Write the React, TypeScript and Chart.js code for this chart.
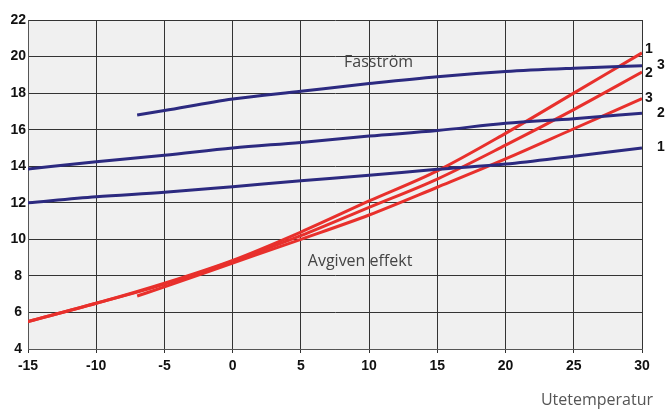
import React, { useEffect, useRef } from "react";
import { Chart, registerables } from "chart.js";

Chart.register(...registerables);

const xTicks = [-15, -10, -5, 0, 5, 10, 15, 20, 25, 30];
const xsFull = [-15, -10, -5, 0, 5, 10, 15, 20, 25, 30];
const xsShort = [-7, -5, 0, 5, 10, 15, 20, 25, 30];

const fass1 = [12.0, 12.33, 12.57, 12.88, 13.2, 13.5, 13.83, 14.12, 14.55, 15.0];
const fass2 = [13.85, 14.25, 14.6, 15.0, 15.3, 15.65, 15.95, 16.35, 16.6, 16.9];
const fass3 = [16.8, 17.05, 17.68, 18.1, 18.52, 18.9, 19.18, 19.36, 19.5];

const eff1 = [5.5, 6.5, 7.6, 8.85, 10.4, 12.1, 13.75, 15.8, 18.0, 20.2];
const eff2 = [5.5, 6.5, 7.55, 8.8, 10.2, 11.75, 13.3, 15.15, 17.1, 19.15];
const eff3 = [6.9, 7.4, 8.7, 10.0, 11.33, 12.85, 14.4, 16.05, 17.7];

const redLabels = [
  { text: "1", y: 20.41 },
  { text: "2", y: 19.1 },
  { text: "3", y: 17.73 },
];
const blueLabels = [
  { text: "3", y: 19.54 },
  { text: "2", y: 16.9 },
  { text: "1", y: 15.05 },
];

const BLUE = "#2c2a80";
const RED = "#e8302c";

function pts(xs: number[], ys: number[]) {
  return xs.map((x, i) => ({ x, y: ys[i] }));
}

export default function App() {
  const ref = useRef<HTMLCanvasElement | null>(null);

  useEffect(() => {
    document.body.style.margin = "0";
    const canvas = ref.current;
    if (!canvas) return;

    const bgPlugin = {
      id: "bgArea",
      beforeDraw(chart: any) {
        const { ctx, chartArea } = chart;
        ctx.save();
        ctx.fillStyle = "#f0f0f0";
        ctx.fillRect(chartArea.left, chartArea.top, chartArea.right - chartArea.left, chartArea.bottom - chartArea.top);
        ctx.restore();
      },
    };

    const textPlugin = {
      id: "texts",
      afterDraw(chart: any) {
        const { ctx, chartArea, scales } = chart;
        const xs = scales.x;
        const ys = scales.y;
        ctx.save();
        ctx.textBaseline = "middle";
        ctx.textAlign = "center";
        ctx.fillStyle = "#444";
        ctx.font = "16px 'Open Sans'";
        ctx.fillText("Fasström", xs.getPixelForValue(10.69), ys.getPixelForValue(19.68));
        ctx.fillText("Avgiven effekt", xs.getPixelForValue(9.34), ys.getPixelForValue(8.8));
        ctx.fillStyle = "#111";
        ctx.font = "bold 14px 'Liberation Sans'";
        redLabels.forEach((l) => ctx.fillText(l.text, chartArea.right + 7, ys.getPixelForValue(l.y)));
        blueLabels.forEach((l) => ctx.fillText(l.text, chartArea.right + 19, ys.getPixelForValue(l.y)));
        ctx.textAlign = "right";
        ctx.fillStyle = "#555";
        ctx.font = "16px 'Open Sans'";
        ctx.fillText("Utetemperatur", chartArea.right + 11, chartArea.bottom + 51);
        ctx.restore();
      },
    };

    const line = (data: any[], color: string) => ({
      data,
      borderColor: color,
      backgroundColor: color,
      borderWidth: 3,
      pointRadius: 0,
      fill: false,
      tension: 0.4,
      cubicInterpolationMode: "monotone" as const,
    });

    const chart = new Chart(canvas, {
      type: "line",
      data: {
        datasets: [
          line(pts(xsFull, fass1), BLUE),
          line(pts(xsFull, fass2), BLUE),
          line(pts(xsShort, fass3), BLUE),
          line(pts(xsFull, eff1), RED),
          line(pts(xsFull, eff2), RED),
          line(pts(xsShort, eff3), RED),
        ],
      },
      options: {
        animation: false,
        responsive: false,
        maintainAspectRatio: false,
        layout: { padding: { top: 20, right: 26, left: 0, bottom: 0 } },
        plugins: { legend: { display: false }, tooltip: { enabled: false } },
        scales: {
          x: {
            type: "linear",
            min: -15,
            max: 30,
            afterBuildTicks(scale: any) {
              scale.ticks = xTicks.map((v) => ({ value: v }));
            },
            afterFit(scale: any) {
              scale.height = 64;
            },
            grid: { color: "#333", lineWidth: 1, tickLength: 4, tickColor: "#333" },
            border: { color: "#555" },
            ticks: {
              color: "#111",
              font: { family: "'Liberation Sans'", size: 14, weight: "bold" },
              padding: 5,
              maxRotation: 0,
            },
          },
          y: {
            min: 4,
            max: 22,
            ticks: {
              stepSize: 2,
              color: "#111",
              font: { family: "'Liberation Sans'", size: 14, weight: "bold" },
              crossAlign: "center",
              padding: 2,
            },
            afterFit(scale: any) {
              scale.width = 28;
            },
            grid: { color: "#333", lineWidth: 1, drawTicks: false },
            border: { color: "#555" },
          },
        },
      },
      plugins: [bgPlugin, textPlugin],
    });

    return () => chart.destroy();
  }, []);

  return <canvas ref={ref} width={668} height={413} style={{ display: "block" }} />;
}
